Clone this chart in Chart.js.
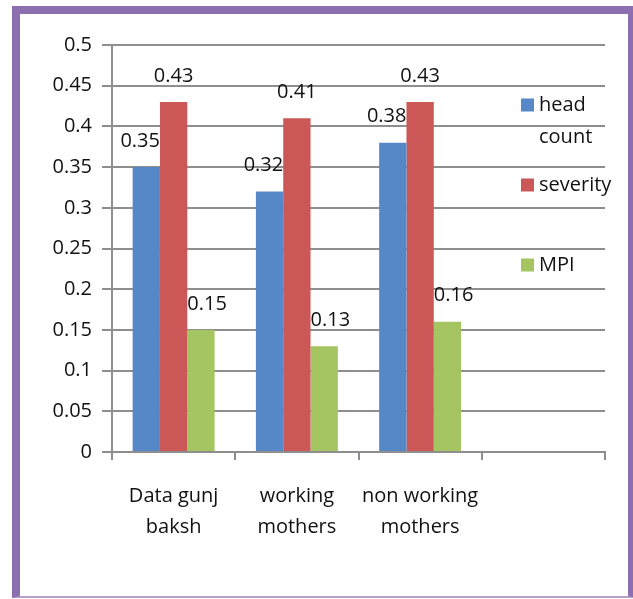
<!DOCTYPE html>
<html>
<head>
<meta charset="utf-8">
<title>Poverty measures by group</title>
<script src="https://cdn.jsdelivr.net/npm/chart.js@4.4.1/dist/chart.umd.min.js"></script>
<style>
  html, body { margin: 0; padding: 0; background: #ffffff; }
  #wrap { position: relative; width: 633px; height: 599px; overflow: hidden; }
  #frame {
    position: absolute; left: 12px; top: 6px; width: 624px; height: 592px;
    box-sizing: border-box;
    border-left: 8px solid #8c6fae; border-top: 8px solid #8c6fae;
    border-right: 8px solid #8c6fae; border-bottom: 2px solid #b6a2cc;
  }
  #chart { position: absolute; left: 0; top: 0; }
</style>
</head>
<body>
<div id="wrap">
  <div id="frame"></div>
  <canvas id="chart" width="633" height="599"></canvas>
</div>
<script>
// Groups along the x axis (the fourth slot is left empty)
const categories = [["Data gunj", "baksh"], ["working", "mothers"], ["non working", "mothers"], ""];
const headCount = [0.35, 0.32, 0.38, null];
const severity  = [0.43, 0.41, 0.43, null];
const mpi       = [0.15, 0.13, 0.16, null];
const yTickLabels = ["0", "0.05", "0.1", "0.15", "0.2", "0.25", "0.3", "0.35", "0.4", "0.45", "0.5"];

const FONT = "'Open Sans', 'Liberation Sans', sans-serif";
const GRID = "#8e8e8e";

// Value labels above each bar: blue right-aligned, red centred, green left-aligned
const valueLabels = {
  id: "valueLabels",
  afterDatasetsDraw(chart) {
    const ctx = chart.ctx;
    ctx.save();
    ctx.font = "20px " + FONT;
    ctx.fillStyle = "#111";
    ctx.textBaseline = "middle";
    chart.data.datasets.forEach((ds, di) => {
      const meta = chart.getDatasetMeta(di);
      meta.data.forEach((bar, i) => {
        const v = ds.data[i];
        if (v === null || v === undefined) return;
        const half = bar.width / 2;
        let x = bar.x;
        if (ds.labelAlign === "right") x = bar.x + half;
        else if (ds.labelAlign === "left") x = bar.x - half;
        ctx.textAlign = ds.labelAlign;
        ctx.fillText(String(v), x, bar.y - 26);
      });
    });
    ctx.restore();
  }
};

// Legend at the right, with word wrapping for long names
const sideLegend = {
  id: "sideLegend",
  afterDraw(chart) {
    const ctx = chart.ctx;
    ctx.save();
    ctx.font = "20px " + FONT;
    ctx.textBaseline = "middle";
    ctx.textAlign = "left";
    const boxX = 521, textX = 539, maxW = 80, startY = 105, step = 80, lineH = 32, sq = 13;
    chart.data.datasets.forEach((ds, di) => {
      const cy = startY + di * step;
      ctx.fillStyle = ds.backgroundColor;
      ctx.fillRect(boxX, cy - sq / 2, sq, sq);
      const words = ds.label.split(" ");
      const lines = [];
      let cur = "";
      words.forEach(w => {
        const t = cur ? cur + " " + w : w;
        if (cur && ctx.measureText(t).width > maxW) { lines.push(cur); cur = w; }
        else cur = t;
      });
      if (cur) lines.push(cur);
      ctx.fillStyle = "#111";
      lines.forEach((ln, li) => ctx.fillText(ln, textX, cy + li * lineH));
    });
    ctx.restore();
  }
};

new Chart(document.getElementById("chart"), {
  type: "bar",
  data: {
    labels: categories,
    datasets: [
      { label: "head count", data: headCount, backgroundColor: "#5688c7", labelAlign: "right" },
      { label: "severity",   data: severity,  backgroundColor: "#cb5856", labelAlign: "center" },
      { label: "MPI",        data: mpi,       backgroundColor: "#a5c462", labelAlign: "left" }
    ]
  },
  options: {
    responsive: false,
    animation: false,
    devicePixelRatio: 1,
    layout: { padding: { top: 45, right: 28, bottom: 47, left: 0 } },
    datasets: { bar: { categoryPercentage: 0.665, barPercentage: 1.0, borderWidth: 0 } },
    plugins: { legend: { display: false }, tooltip: { enabled: false } },
    scales: {
      x: {
        offset: true,
        afterFit(scale) { scale.height = 100; },
        grid: { display: true, offset: true, drawOnChartArea: false, drawTicks: true, tickLength: 8, color: GRID, lineWidth: 2 },
        border: { display: true, color: GRID, width: 2 },
        ticks: { color: "#111", padding: 21, maxRotation: 0, autoSkip: false, font: { family: FONT, size: 20, lineHeight: 1.55 } }
      },
      y: {
        min: 0,
        max: 0.5,
        afterFit(scale) { scale.width = 112; },
        grid: { color: GRID, lineWidth: 2, drawTicks: true, tickLength: 10 },
        border: { display: true, color: GRID, width: 2 },
        ticks: {
          stepSize: 0.05,
          padding: 10,
          color: "#111",
          font: { family: FONT, size: 20 },
          callback: (v, i) => yTickLabels[i]
        }
      }
    }
  },
  plugins: [valueLabels, sideLegend]
});
</script>
</body>
</html>
